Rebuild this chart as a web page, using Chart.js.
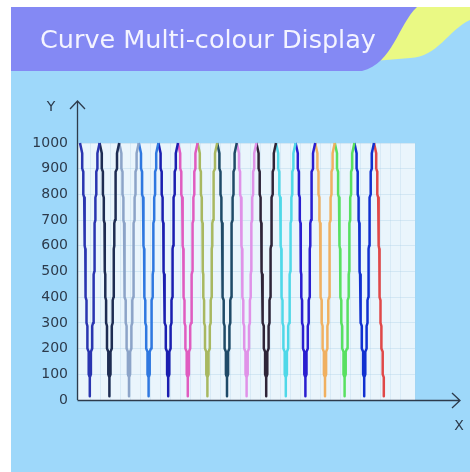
<!DOCTYPE html>
<html>
<head>
<meta charset="utf-8">
<script src="https://cdn.jsdelivr.net/npm/chart.js@4/dist/chart.umd.min.js"></script>
<style>
  html, body { margin: 0; padding: 0; background: #fff; }
  #chart { display: block; }
</style>
</head>
<body>
<canvas id="chart" width="470" height="472"></canvas>
<script>
// x position of every peak (same units as the x axis)
const peakX = [80, 99.6, 119.2, 138.8, 158.4, 178, 197.6, 217.2, 236.8, 256.4, 276, 295.6, 315.2, 334.8, 354.4, 374];
// one half wave: the levels the line steps through, and how far from the peak each step sits
const levels = [1000, 900, 800, 700, 600, 500, 400, 300, 200, 100, 15];
const stepOffsets = [0, 2.2, 3.3, 4.2, 4.9, 5.3, 5.7, 6.5, 7.4, 8.7, 9.8];
// height of the slanted kink at the start of each step (first one is the peak tip)
const kinkDrop = [0, 40, 12, 12, 12, 12, 12, 12, 12, 12, 12];
// colour of each V (descent from a peak + climb to the next one)
const lineColors = [
  "#2a35b0", "#1e2c52", "#8ca4c8", "#2f78e0", "#1a1eb0", "#e05cc0", "#a8b860", "#1f4a68",
  "#e092e8", "#2e2438", "#4fd8e8", "#2a1ed0", "#f0b060", "#58e060", "#1030d0", "#e04848"
];
const yTicks = [0, 100, 200, 300, 400, 500, 600, 700, 800, 900, 1000];

const FONT = "'DejaVu Sans', sans-serif";
const AXIS = "#2d3b4c";

// one dataset per colour: down from a peak, then back up to the next peak
const datasets = peakX.map((px, k) => {
  const pts = [{ x: px, y: levels[0] }];
  for (let i = 1; i < levels.length; i++) {
    pts.push({ x: px + stepOffsets[i], y: levels[i - 1] - kinkDrop[i] });
    pts.push({ x: px + stepOffsets[i], y: levels[i] });
  }
  if (k < peakX.length - 1) {
    const next = peakX[k + 1];
    for (let i = levels.length - 1; i >= 1; i--) {
      pts.push({ x: next - stepOffsets[i], y: levels[i] });
      pts.push({ x: next - stepOffsets[i], y: levels[i - 1] - kinkDrop[i] });
    }
    pts.push({ x: next, y: levels[0] });
  }
  return {
    data: pts,
    borderColor: lineColors[k],
    borderWidth: 2.5,
    borderJoinStyle: "round",
    pointRadius: 0,
    clip: false
  };
});

const decor = {
  id: "decor",
  beforeDraw(chart) {
    const ctx = chart.ctx;
    const a = chart.chartArea;
    ctx.save();
    ctx.fillStyle = "#ffffff";
    ctx.fillRect(0, 0, 470, 472);
    // light blue panel
    ctx.fillStyle = "#9ed8fa";
    ctx.fillRect(11, 7, 459, 465);
    // yellow swoosh
    ctx.fillStyle = "#eaf984";
    ctx.beginPath();
    ctx.moveTo(380, 7);
    ctx.lineTo(470, 7);
    ctx.lineTo(470, 20);
    ctx.bezierCurveTo(448, 30, 438, 57, 410, 58);
    ctx.lineTo(374, 61);
    ctx.lineTo(374, 7);
    ctx.closePath();
    ctx.fill();
    // purple banner
    ctx.fillStyle = "#8489f4";
    ctx.beginPath();
    ctx.moveTo(11, 7);
    ctx.lineTo(417, 7);
    ctx.bezierCurveTo(398, 25, 393, 63, 362, 71);
    ctx.lineTo(11, 71);
    ctx.closePath();
    ctx.fill();
    // title
    ctx.fillStyle = "#f4f4ff";
    ctx.font = "25.5px " + FONT;
    ctx.textAlign = "left";
    ctx.textBaseline = "alphabetic";
    ctx.fillText("Curve Multi-colour Display", 40, 48);
    // plot background
    ctx.fillStyle = "#eaf5fc";
    ctx.fillRect(a.left, a.top, a.right - a.left, a.bottom - a.top);
    ctx.restore();
  },
  afterDraw(chart) {
    const ctx = chart.ctx;
    const a = chart.chartArea;
    ctx.save();
    ctx.strokeStyle = AXIS;
    ctx.lineWidth = 1.3;
    // y axis with arrow
    ctx.beginPath();
    ctx.moveTo(a.left - 0.5, a.bottom);
    ctx.lineTo(a.left - 0.5, 101);
    ctx.moveTo(70, 109);
    ctx.lineTo(a.left - 0.5, 101);
    ctx.lineTo(85, 109);
    // x axis with arrow
    ctx.moveTo(a.left - 0.5, a.bottom + 0.5);
    ctx.lineTo(460, a.bottom + 0.5);
    ctx.moveTo(452, 393);
    ctx.lineTo(460, a.bottom + 0.5);
    ctx.lineTo(452, 408);
    ctx.stroke();
    ctx.fillStyle = AXIS;
    ctx.font = "14px " + FONT;
    ctx.textAlign = "center";
    ctx.textBaseline = "middle";
    ctx.fillText("Y", 51, 107);
    ctx.fillText("X", 459, 426);
    ctx.restore();
  }
};

new Chart(document.getElementById("chart"), {
  type: "line",
  data: { datasets: datasets },
  plugins: [decor],
  options: {
    responsive: false,
    devicePixelRatio: 1,
    animation: false,
    layout: { padding: { left: 0, top: 143, right: 55, bottom: 72 } },
    plugins: { legend: { display: false }, tooltip: { enabled: false }, title: { display: false } },
    scales: {
      x: {
        type: "linear",
        min: 78,
        max: 415,
        ticks: { display: false, stepSize: 10 },
        grid: { color: "rgba(170,205,230,0.28)", drawTicks: false },
        border: { display: false },
        afterFit: (s) => { s.height = 0; }
      },
      y: {
        min: 0,
        max: 1000,
        afterBuildTicks: (s) => { s.ticks = yTicks.map(v => ({ value: v })); },
        ticks: { color: AXIS, font: { family: FONT, size: 14 }, padding: 10, callback: (v) => String(v) },
        grid: { color: "rgba(170,205,230,0.35)", drawTicks: false },
        border: { display: false },
        afterFit: (s) => { s.width = 78; }
      }
    }
  }
});
</script>
</body>
</html>
